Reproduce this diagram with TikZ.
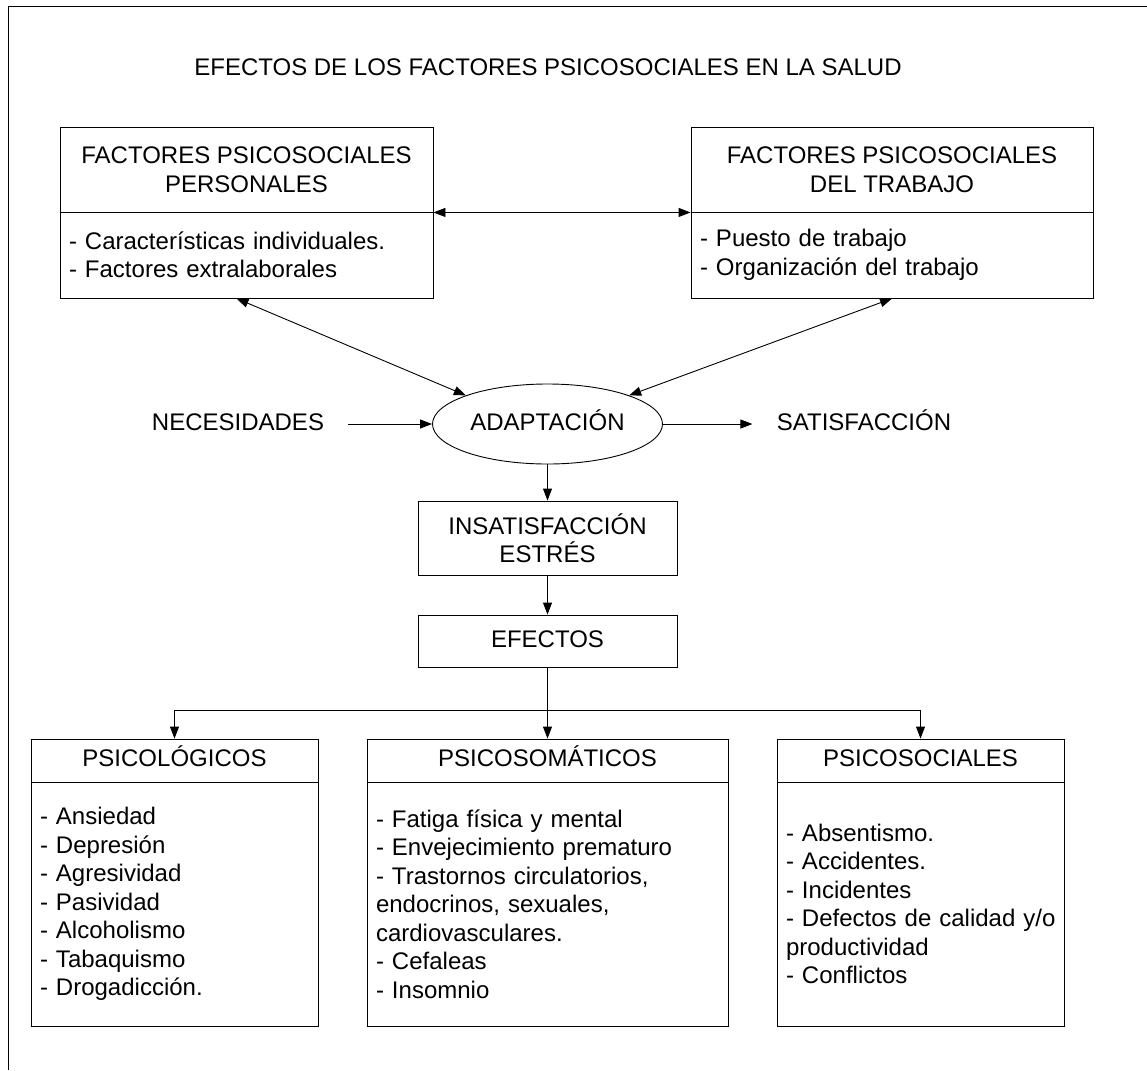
\documentclass[tikz,border=0pt]{standalone}
\usepackage{fontspec}
\setmainfont{Liberation Sans}
\usetikzlibrary{arrows.meta,shapes.geometric}

\begin{document}
\begin{tikzpicture}[x=1pt,y=-1pt,
    >={Triangle[length=12pt,width=9pt]},
    line width=0.9pt,
    font=\fontsize{24}{28.5}\selectfont,
    box/.style={draw,rectangle,inner sep=0pt,align=center},
    oneline/.style={text height=17pt,text depth=5pt},
    itembox/.style={draw,rectangle,inner xsep=9pt,inner ysep=0pt,align=left},
    lbl/.style={inner xsep=24pt,oneline}]
\useasboundingbox (0,0) rectangle (1147,1070);
\draw (1147,6) -- (8,6) -- (8,1070);

    \node (title) at (548,70) [oneline] {EFECTOS DE LOS FACTORES PSICOSOCIALES EN LA SALUD};

    \node (perhead) at (246.5,169.5) [box,minimum width=373pt,minimum height=85pt] {FACTORES PSICOSOCIALES\\PERSONALES};
    \node (perbody) at (246.5,255) [itembox,text width=355pt,minimum height=86pt] {- Características individuales.\\- Factores extralaborales};
    \node (trahead) at (892,169.5) [box,minimum width=402pt,minimum height=85pt] {FACTORES PSICOSOCIALES\\DEL TRABAJO};
    \node (trabody) at (892,255) [itembox,text width=384pt,minimum height=86pt] {- Puesto de trabajo\\- Organización del trabajo};

    \node (adapt) at (547.5,424) [draw,ellipse,minimum width=230pt,minimum height=80pt,inner sep=0pt,oneline] {ADAPTACIÓN};
    \node (nec) at (238,424) [lbl] {NECESIDADES};
    \node (sat) at (864,424) [lbl] {SATISFACCIÓN};

    \node (insat) at (547.5,538) [box,minimum width=259pt,minimum height=74pt] {INSATISFACCIÓN\\ESTRÉS};
    \node (efe) at (547.5,641) [box,oneline,minimum width=259pt,minimum height=52pt] {EFECTOS};
    \coordinate (split) at (547.5,710);

%   efectos
    \node (pslhead) at (174.5,760.5) [box,oneline,minimum width=287pt,minimum height=43pt] {PSICOLÓGICOS};
    \node (pslbody) at (174.5,904) [itembox,text width=269pt,minimum height=244pt] {- Ansiedad\\- Depresión\\- Agresividad\\- Pasividad\\- Alcoholismo\\- Tabaquismo\\- Drogadicción.};
    \node (psmhead) at (547.5,760.5) [box,oneline,minimum width=361pt,minimum height=43pt] {PSICOSOMÁTICOS};
    \node (psmbody) at (547.5,904) [itembox,text width=343pt,minimum height=244pt] {- Fatiga física y mental\\- Envejecimiento prematuro\\- Trastornos circulatorios,\\endocrinos, sexuales,\\cardiovasculares.\\- Cefaleas\\- Insomnio};
    \node (psshead) at (920.5,760.5) [box,oneline,minimum width=287pt,minimum height=43pt] {PSICOSOCIALES};
    \node (pssbody) at (920.5,904) [itembox,text width=269pt,minimum height=244pt] {- Absentismo.\\- Accidentes.\\- Incidentes\\\mbox{- Defectos de calidad y/o}\\productividad\\- Conflictos};

\draw[<->] (perhead.south east) -- (trahead.south west);
\draw[<->] ([xshift=-10pt]perbody.south) -- (adapt.north west);
\draw[<->] (trabody.south) -- (adapt.north east);
\draw[->] (nec.east) -- (adapt.west);
\draw[->] (adapt.east) -- (sat.west);
\draw[->] (adapt.south) -- (insat.north);
\draw[->] (insat.south) -- (efe.north);
\draw (efe.south) -- (split);
\draw[->] (split) -- (psmhead.north);
\draw[->] (split) -| (pslhead.north);
\draw[->] (split) -| (psshead.north);
\end{tikzpicture}
\end{document}
